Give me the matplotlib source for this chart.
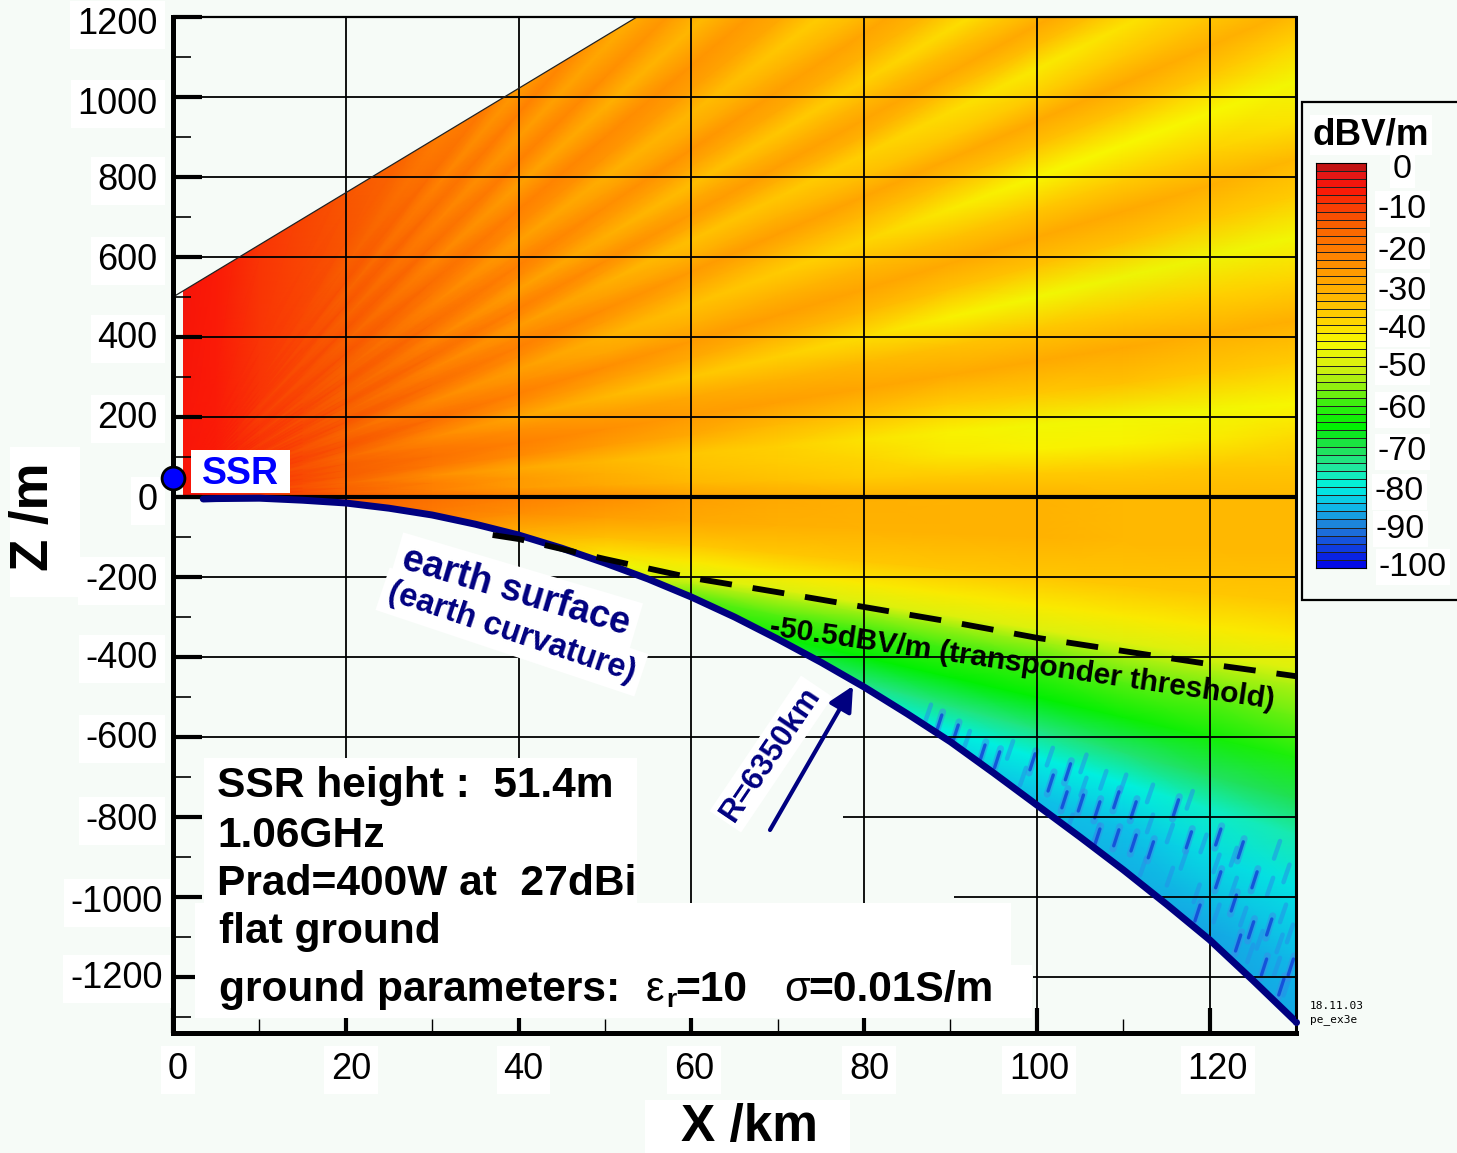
import numpy as np
import matplotlib
matplotlib.use('Agg')
import matplotlib.pyplot as plt
from matplotlib.colors import LinearSegmentedColormap
from matplotlib.patches import Polygon, Rectangle
from matplotlib.transforms import Affine2D, ScaledTranslation

plt.rcParams['font.family'] = ['Liberation Sans', 'DejaVu Sans']

# values
x_ticks = [0, 20, 40, 60, 80, 100, 120]
z_ticks = [1200, 1000, 800, 600, 400, 200, 0, -200, -400, -600, -800, -1000, -1200]
grid_z_start = [0, 0, 0, 0, 0, 0, 0, 0, 0, 0, 77.6, 90.4, 99.6]

cbar_levels = np.arange(-100, 2, 2)
cbar_labels = [0, -10, -20, -30, -40, -50, -60, -70, -80, -90, -100]
cbar_label_y = [168, 207, 249, 289, 327, 365, 408, 450, 490, 527, 565]
cbar_label_x = [1412, 1427, 1427, 1427, 1427, 1427, 1427, 1427, 1424, 1425, 1447]

cmap_values = [-100, -95, -90, -85, -80, -75, -70, -65, -60, -55, -50, -44, -38, -30,
               -22, -15, -6, -2, 0]
cmap_colors = ['#0000e8', '#1040e0', '#1f78d8', '#10b8e8', '#00f0e0', '#20e8a0', '#20e050',
               '#00f000', '#30ee10', '#90f010', '#d8f010', '#f8f800', '#ffd000', '#ffaa00',
               '#ff8000', '#f86000', '#fa1508', '#e01818', '#b01010']

# z = slope * x rays, field in dBV/m, columns are x_col
x_col = [1, 5, 10, 20, 30, 40, 50, 60, 70, 80, 90, 100, 110, 120, 130]
ray_slope = [-40, -20, -12, -9, -7.5, -6.5, -5.8, -5, -4.2, -3.6, -3.3, -2.7, -2, -1, 0,
             0.6, 1.2, 1.8, 2.6, 3.4, 4.2, 5, 5.8, 6.5, 7.2, 8, 8.8, 9.4, 10, 10.7, 11.3, 11.8,
             12.4, 13, 13.8, 14.5, 15.2, 16, 17, 18, 19.5, 21, 22.5, 24, 25.5, 27, 29, 32, 36,
             40, 60, 120, 400, 1200]
field_db = np.array([
    [-7, -9, -12, -20, -40, -80, -84, -86, -86, -86, -86, -87, -87, -87, -87],
    [-7, -9, -12, -20, -40, -80, -84, -86, -86, -86, -87, -87, -88, -88, -88],
    [-7, -9, -12, -20, -35, -70, -82, -84, -85, -86, -87, -87, -88, -88, -88],
    [-7, -9, -12, -20, -30, -60, -78, -84, -84, -85, -86, -86, -86, -86, -85],
    [-7, -9, -12, -20, -28, -50, -70, -80, -84, -84, -84, -84, -84, -82, -81],
    [-7, -8, -11, -18, -26, -44, -62, -72, -78, -80, -80, -80, -80, -78, -76],
    [-7, -8, -11, -18, -25, -40, -58, -66, -72, -73, -73, -73, -72, -71, -70],
    [-6, -8, -11, -17, -24, -38, -54, -62, -64, -65, -65, -65, -64, -63, -62],
    [-6, -8, -11, -17, -24, -36, -50, -58, -58, -59, -59, -59, -58, -58, -57],
    [-6, -8, -10, -16, -23, -35, -47, -52, -53, -54, -54, -54, -53, -53, -53],
    [-6, -8, -10, -16, -23, -34, -45, -48, -49, -49, -49, -49, -49, -49, -49],
    [-6, -7, -10, -16, -22, -33, -40, -42, -42, -42, -42, -42, -42, -42, -42],
    [-6, -7, -10, -15, -21, -30, -34, -36, -36, -36, -36, -36, -36, -36, -36],
    [-6, -7, -10, -15, -20, -25, -28, -30, -31, -32, -32, -32, -33, -33, -33],
    [-6, -7, -10, -15, -19, -22, -25, -28, -30, -31, -32, -32, -33, -33, -33],
    [-6, -7, -10, -16, -22, -27, -30, -33, -35, -37, -37, -37, -37, -36, -36],
    [-6, -7, -10, -16, -22, -27, -31, -35, -37, -39, -42, -43, -43, -42, -40],
    [-6, -7, -11, -17, -25, -30, -33, -36, -38, -41, -43, -45, -45, -45, -44],
    [-6, -7, -10, -15, -20, -24, -27, -30, -33, -35, -37, -36, -35, -36, -37],
    [-6, -7, -10, -15, -19, -22, -25, -27, -28, -29, -30, -30, -30, -31, -31],
    [-6, -7, -10, -15, -21, -25, -28, -30, -32, -33, -35, -36, -37, -38, -39],
    [-6, -7, -11, -17, -24, -29, -33, -36, -38, -40, -43, -45, -46, -46, -45],
    [-6, -7, -10, -15, -21, -25, -28, -30, -32, -33, -35, -35, -35, -36, -37],
    [-6, -7, -10, -14, -18, -22, -25, -27, -28, -29, -30, -30, -30, -31, -33],
    [-6, -7, -10, -15, -21, -25, -29, -31, -32, -33, -35, -36, -37, -38, -41],
    [-6, -7, -11, -17, -24, -28, -32, -35, -37, -39, -42, -44, -44, -44, -45],
    [-6, -7, -10, -15, -20, -24, -27, -30, -32, -33, -34, -35, -35, -36, -38],
    [-6, -7, -10, -14, -18, -22, -25, -27, -28, -29, -30, -30, -30, -31, -32],
    [-6, -7, -10, -15, -20, -24, -28, -31, -32, -34, -36, -37, -36, -36, -36],
    [-6, -7, -11, -16, -23, -27, -31, -35, -36, -38, -40, -42, -41, -40, -40],
    [-6, -7, -10, -15, -20, -24, -27, -30, -31, -32, -34, -34, -34, -34, -34],
    [-6, -7, -10, -14, -18, -22, -25, -27, -28, -29, -30, -30, -30, -31, -31],
    [-6, -7, -10, -15, -20, -25, -28, -30, -32, -33, -34, -36, -36, -36, -36],
    [-6, -7, -11, -16, -23, -28, -31, -34, -36, -38, -40, -41, -41, -41, -41],
    [-6, -7, -10, -15, -20, -24, -27, -29, -30, -32, -33, -34, -34, -34, -34],
    [-6, -7, -10, -14, -18, -22, -25, -26, -28, -29, -30, -30, -30, -31, -31],
    [-6, -7, -10, -15, -20, -25, -28, -30, -32, -34, -36, -36, -36, -36, -36],
    [-6, -7, -11, -16, -23, -28, -31, -33, -36, -38, -39, -40, -40, -40, -40],
    [-6, -7, -10, -15, -20, -24, -26, -28, -30, -32, -33, -33, -33, -33, -33],
    [-6, -7, -10, -14, -18, -22, -24, -26, -28, -29, -30, -30, -30, -30, -30],
    [-6, -7, -11, -16, -23, -28, -31, -33, -35, -36, -37, -37, -37, -37, -37],
    [-6, -7, -10, -14, -18, -22, -25, -27, -28, -29, -30, -30, -30, -30, -30],
    [-6, -7, -11, -16, -22, -27, -30, -32, -33, -34, -35, -35, -35, -35, -35],
    [-6, -7, -10, -14, -18, -22, -25, -27, -28, -29, -30, -30, -30, -30, -30],
    [-6, -7, -10, -16, -22, -27, -30, -32, -33, -34, -35, -35, -35, -35, -35],
    [-6, -7, -10, -14, -18, -22, -25, -27, -28, -29, -30, -30, -30, -30, -30],
    [-6, -7, -10, -15, -21, -26, -29, -31, -32, -33, -34, -34, -34, -34, -34],
    [-6, -7, -10, -14, -18, -22, -24, -26, -28, -29, -30, -30, -30, -30, -30],
    [-6, -7, -10, -14, -19, -23, -26, -28, -29, -30, -31, -31, -31, -31, -31],
    [-6, -7, -10, -14, -18, -22, -24, -26, -28, -29, -30, -30, -30, -30, -30],
    [-6, -7, -10, -14, -18, -22, -24, -26, -28, -29, -30, -30, -30, -30, -30],
    [-6, -7, -9, -13, -18, -22, -24, -26, -28, -29, -30, -30, -30, -30, -30],
    [-5, -6, -8, -12, -18, -22, -24, -26, -28, -29, -30, -30, -30, -30, -30],
    [-5, -6, -8, -12, -18, -22, -24, -26, -28, -29, -30, -30, -30, -30, -30],
], dtype=float)

# earth surface
ground_x = [3.5, 5, 10, 15, 20, 25, 30, 35, 40, 45, 50, 55, 60, 65, 70, 75, 80, 85, 90, 95, 100,
            105, 110, 115, 120, 125, 130]
ground_z = [-5, -4, -3, -8, -15, -28, -45, -68, -95, -128, -165, -205, -250, -300, -355, -413,
            -475, -542, -612, -690, -770, -850, -932, -1018, -1107, -1208, -1312]
# transponder threshold
thresh_x = [37, 40, 50, 60, 70, 80, 90, 100, 110, 120, 130]
thresh_z = [-95, -105, -155, -202, -238, -275, -312, -352, -385, -418, -448]
# upper edge of the computed wedge
edge_x = [0, 53.7]
edge_z = [500, 1200]
# dark streaks in the shadow zone
streak_x = [88.7, 90.6, 93.7, 95.4, 99.5, 101.6, 103.6, 103.2, 105.1, 107, 109.2, 111.2, 116.1,
            109.2, 111.2, 113.2, 117.6, 121, 123.6, 125.2, 121, 118.6, 122.8, 126.9, 124.8,
            123.3, 129.4, 128.3, 126.3, 107]
streak_z = [-565, -590, -640, -657, -662, -715, -687, -757, -765, -782, -757, -782, -777,
            -852, -865, -882, -857, -850, -882, -957, -957, -1040, -1015, -1075, -1082,
            -1115, -1175, -1225, -1175, -850]
# paler streaks
pale_x = [87.4, 91.9, 96.9, 98.4, 101.5, 105.4, 107.7, 110, 113.1, 117.7, 105.4, 103.8, 106.9,
          113.1, 115.4, 119.3, 122.8, 117, 120.8, 127.8, 128.9, 112.3, 115.4, 122.8, 127, 118.5,
          120.8, 123.9, 128.5, 125.8, 128.1, 129.3, 127.8, 128.9, 124.7]
pale_z = [-541, -607, -632, -699, -649, -666, -707, -716, -741, -757, -724, -816, -841,
          -816, -841, -866, -899, -907, -916, -882, -941, -924, -949, -974, -974, -991,
          -1041, -1049, -1041, -1107, -1116, -1091, -1174, -1224, -1141]
ssr_x = 0
ssr_z = 47

fig = plt.figure(figsize=(14.57, 11.53), dpi=100, facecolor='#f6fbf7')
# pixel coordinates of the picture, origin top left
px = Affine2D().scale(1, -1).translate(0, 1153)

ax = fig.add_axes([173/1457, 120/1153, 1123/1457, 1016/1153], facecolor='#f6fbf7')
ax.set_xlim(0, 130)
ax.set_ylim(-1340, 1200)

cmap = LinearSegmentedColormap.from_list('field', [((v+100)/100, c) for v, c in zip(cmap_values, cmap_colors)])

X = np.tile(x_col, (len(ray_slope), 1))
Z = np.outer(ray_slope, x_col)
mesh = ax.pcolormesh(X, Z, field_db, shading='gouraud', cmap=cmap, vmin=-100, vmax=0, zorder=1)
outline = list(zip([1.1, 1.1, 53.7, 130], [0, 514, 1200, 1200])) + list(zip(ground_x[::-1], ground_z[::-1]))
clip = Polygon(outline, closed=True, transform=ax.transData)
mesh.set_clip_path(clip)

for sx, sz in zip(pale_x, pale_z):
    ln, = ax.plot([sx-0.35, sx+0.35], [sz-22, sz+22], color='#2590e8', lw=3.2, alpha=0.55,
                  solid_capstyle='round', zorder=1.4)
    ln.set_clip_path(clip)
for sx, sz in zip(streak_x, streak_z):
    ln, = ax.plot([sx-0.4, sx+0.4], [sz-28, sz+28], color='#3a8ce8', lw=5, alpha=0.5,
                  solid_capstyle='round', zorder=1.5)
    ln.set_clip_path(clip)
    ln, = ax.plot([sx-0.3, sx+0.3], [sz-20, sz+20], color='#1040d8', lw=2.4, alpha=0.8,
                  solid_capstyle='round', zorder=1.6)
    ln.set_clip_path(clip)

# grid
ax.vlines(x_ticks[1:], -1340, 1200, color='black', lw=1.3, zorder=2)
ax.hlines(z_ticks, grid_z_start, 130, color='black', lw=1.3, zorder=2)
ax.hlines(0, 0, 130, color='black', lw=3, zorder=2.2)
ax.plot(edge_x, edge_z, color='#222222', lw=0.9, zorder=2)

ax.plot(ground_x, ground_z, color='#000080', lw=5, zorder=3, solid_capstyle='round')
ax.plot(ground_x[-1:], ground_z[-1:], 'o', color='#000080', ms=4, zorder=3, clip_on=False)
ax.plot(thresh_x, thresh_z, color='black', lw=4.2, dashes=(5.5, 3.6), zorder=3.2, clip_on=False)

for sp, w in zip(['left', 'bottom', 'top', 'right'], [3.6, 3.6, 1.6, 2.2]):
    ax.spines[sp].set_linewidth(w)

ax.set_xticks(x_ticks, labels=[str(t) for t in x_ticks])
ax.set_xticks(np.arange(10, 130, 20), minor=True)
ax.set_yticks(z_ticks, labels=[str(t) for t in z_ticks])
ax.set_yticks(np.arange(-1300, 1200, 200), minor=True)
ax.tick_params(axis='x', which='major', direction='in', length=18, width=3, labelsize=26, pad=14)
ax.tick_params(axis='x', which='minor', direction='in', length=10, width=1)
ax.tick_params(axis='y', which='major', direction='in', length=21, width=3, labelsize=26, pad=11)
ax.tick_params(axis='y', which='minor', direction='in', length=13, width=1.2)
x_label_dx = [5, 5, 5, 3, 5, 2, 8]
y_label_dx = [0, 0, 0, 0, 0, 0, 0, 0, 0, 0, 0, 5, 5]
y_label_dy = [4, 3, 0, 0, -2, -2, 0, 0, -2, -2, 0, 2, -2]
for lab, dx in zip(ax.get_xticklabels(), x_label_dx):
    lab.set_bbox(dict(fc='white', ec='none', pad=5))
    lab.set_transform(lab.get_transform() + ScaledTranslation(dx/100, 0, fig.dpi_scale_trans))
for lab, dx, dy in zip(ax.get_yticklabels(), y_label_dx, y_label_dy):
    lab.set_bbox(dict(fc='white', ec='none', pad=5))
    lab.set_transform(lab.get_transform() + ScaledTranslation(dx/100, -dy/100, fig.dpi_scale_trans))


def white_box(x0, y0, x1, y1):
    ax.add_patch(Rectangle((x0, y0), x1-x0, y1-y0, fc='white', ec='none', transform=px, clip_on=False, zorder=4))


def label(x, y, s, size, color='black', weight='bold', ha='left', va='center', rot=0, **kw):
    return ax.text(x, y, s, transform=px, fontsize=size, color=color, fontweight=weight, ha=ha, va=va,
                   rotation=rot, rotation_mode='anchor', clip_on=False, zorder=5, **kw)


white_box(204, 758, 637, 903)
white_box(195, 903, 1011, 1018)
white_box(1011, 965, 1032, 1018)
white_box(191, 450, 290, 493)

label(217, 786, 'SSR height :  51.4m', 30.6)
label(217, 836, '1.06GHz', 30.6)
label(217, 884, 'Prad=400W at  27dBi', 30.6)
label(219, 932, 'flat ground', 30.6)
label(219, 990, 'ground parameters:', 30.6)
label(646, 990, '\u03b5', 30, weight='normal')
label(666, 1000, 'r', 19)
label(675, 990, '=10', 30.6)
label(784, 990, '\u03c3', 30, weight='normal')
label(808, 990, '=0.01S/m', 30.6)

label(240, 474, 'SSR', 27, color='#0000ff', ha='center')
ax.scatter([ssr_x], [ssr_z], s=270, color='#0000ff', edgecolor='black', lw=2, clip_on=False, zorder=6)

box = dict(fc='white', ec='none', pad=5)
label(516, 592, 'earth surface', 27, color='#000080', ha='center', rot=-16.5, bbox=box)
label(512, 632, '(earth curvature)', 23.5, color='#000080', ha='center', rot=-18.5, bbox=box)
label(771, 754, 'R=6350km', 22.5, color='#000080', ha='center', rot=56, bbox=dict(fc='white', ec='none', pad=3))
ax.annotate('', xy=(853, 686), xytext=(770, 830), xycoords=px, textcoords=px, zorder=4.5,
            arrowprops=dict(arrowstyle='-|>,head_length=1.5,head_width=0.75', color='#000080', lw=3,
                            shrinkA=0, shrinkB=0))
label(1022, 664, '-50.5dBV/m (transponder threshold)', 21.5, ha='center', rot=-8.3)

# axis titles
white_box(10, 447, 80, 597)
white_box(645, 1100, 850, 1153)
label(34, 517, 'Z /m', 38, ha='center', rot=90)
label(749, 1127, 'X /km', 37, ha='center')

# legend box and colour bar
ax.add_patch(Rectangle((1302, 102), 175, 498, fc='#f6fbf7', ec='black', lw=1.6, transform=px, clip_on=False, zorder=2))
cax = fig.add_axes([1316/1457, (1153-568)/1153, 50/1457, 405/1153])
cax.pcolormesh([0, 1], cbar_levels, np.array([(cbar_levels[:-1]+1)]).T, cmap=cmap, vmin=-100, vmax=0,
               edgecolors='#222222', linewidth=0.6)
cax.set_xticks([])
cax.set_yticks([])
for sp in cax.spines.values():
    sp.set_linewidth(0.8)
label(1371, 135, 'dBV/m', 26.5, ha='center', bbox=dict(fc='white', ec='none', pad=2))
for v, yy, xx in zip(cbar_labels, cbar_label_y, cbar_label_x):
    label(xx, yy+2, str(v), 24.5, weight='normal', ha='right', bbox=dict(fc='white', ec='none', pad=2))

label(1310, 1006, '18.11.03', 8, family='DejaVu Sans Mono', weight='normal')
label(1310, 1020, 'pe_ex3e', 8, family='DejaVu Sans Mono', weight='normal')

fig.savefig('out.png', dpi=100, facecolor=fig.get_facecolor())
